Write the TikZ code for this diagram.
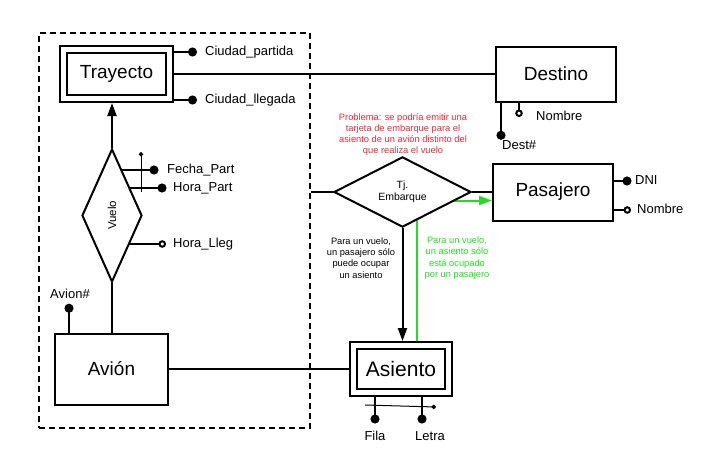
\documentclass[tikz,border=0pt]{standalone}
\usepackage{fontspec}
\setmainfont{Liberation Sans}
\usetikzlibrary{shapes.geometric, arrows.meta, positioning, backgrounds}
\definecolor{NoteRed}{HTML}{E52A38}
\definecolor{NoteGreen}{HTML}{22DD22}
\newcommand{\attrfont}{\fontsize{13}{15}\selectfont}
\newcommand{\notefont}{\fontsize{9.3}{11.2}\selectfont}
\tikzset{
  entity/.style={draw, line width=2pt, fill=white, inner sep=0pt,
                 minimum width=113pt, minimum height=56pt,
                 font=\fontsize{19}{22}\selectfont},
  weakentity/.style={entity, path picture={
      \draw[line width=2pt]
        ([shift={(7pt,-7pt)}]path picture bounding box.north west) rectangle
        ([shift={(-7pt,7pt)}]path picture bounding box.south east);}},
  relation/.style={draw, diamond, line width=2pt, fill=white, inner sep=0pt},
  attrlabel/.style={inner sep=1pt, font=\attrfont,
                    text height=1.6ex, text depth=.3ex},
  link/.style={line width=2pt},
  isa/.style={line width=2pt, -{Triangle[length=13pt, width=9pt]}},
  keyline/.style={line width=2pt, -{Circle[length=9pt]}},
  optline/.style={line width=2pt, -{Circle[open, length=7.5pt]}},
  compline/.style={line width=1pt, -{Circle[length=4.5pt]}},
}

\begin{document}
\begin{tikzpicture}[x=1pt, y=-1pt]
\useasboundingbox (0,0) rectangle (710,463);

% aggregation
\node[draw, dashed, dash pattern=on 6pt off 4pt, line width=1.6pt,
      minimum width=271pt, minimum height=395pt] (agg) at (174.5,230.5) {};

% entities and relations
\node[weakentity] (tray) at (116.5,74) {Trayecto};
\node[entity, minimum width=120pt, minimum height=55pt] (dest) at (556,74) {Destino};
\node[entity, minimum width=120pt, minimum height=57pt] (pas) at (553,192) {Pasajero};
\node[entity, minimum height=71pt] (avion) at (111.5,369) {Avión};
\node[weakentity, minimum width=102pt, minimum height=54pt,
      font=\fontsize{21}{24}\selectfont] (asi) at (401,369) {Asiento};
\node[relation, minimum width=60pt, minimum height=133pt,
      font=\fontsize{11.5}{13}\selectfont] (vuelo) at (112,215.5) {\rotatebox{90}{Vuelo}};
\node[relation, minimum width=137pt, minimum height=56pt, align=center,
      font=\fontsize{10.5}{12}\selectfont] (tj) at (402.5,192) {Tj.\\Embarque};

% connectors
\draw[link] (tray.east) -- (dest.west);
\draw[link] (avion.east) -- (asi.west);
\draw[link] (agg.east |- tj.west) -- (tj.west);
\draw[link] (tj.east) -- (pas.west);
\draw[isa] (vuelo.north) -- (vuelo.north |- tray.south);
\draw[link] (vuelo.south) -- (vuelo.south |- avion.north);
\draw[isa] (tj.south) -- (tj.south |- asi.north);

% green dependency
\coordinate (pasgreen) at ([yshift=-8.5pt]pas.west);
\begin{scope}[on background layer]
  \draw[isa, draw=NoteGreen] ([xshift=16pt]asi.north) |- (pasgreen);
\end{scope}

% attributes of Trayecto
\node[attrlabel, anchor=west] (cpart) at (204,52) {Ciudad\_partida};
\node[attrlabel, anchor=west] (cllega) at (204,100) {Ciudad\_llegada};
\coordinate (cpartdot) at ([xshift=-7pt]cpart.west);
\coordinate (cllegadot) at ([xshift=-7pt]cllega.west);
\draw[keyline] (cpartdot -| tray.east) -- (cpartdot);
\draw[keyline] (cllegadot -| tray.east) -- (cllegadot);

% attributes of Destino
\node[attrlabel, anchor=west] (destkey) at (501,146) {Dest\#};
\node[attrlabel, anchor=west] (destnom) at (535,117) {Nombre};
\coordinate (destkeydot) at (destkey.north west);
\coordinate (destnomdot) at ([xshift=-16pt]destnom.west);
\draw[keyline] (destkeydot |- dest.south) -- (destkeydot);
\draw[optline] (destnomdot |- dest.south) -- (destnomdot);

% attributes of Pasajero
\node[attrlabel, anchor=west] (dni) at (634,181) {DNI};
\node[attrlabel, anchor=west] (pasnom) at (636,210) {Nombre};
\coordinate (dnidot) at ([xshift=-2.5pt]dni.west);
\coordinate (pasnomdot) at ([xshift=-5pt]pasnom.west);
\draw[keyline] (dnidot -| pas.east) -- (dnidot);
\draw[optline] (pasnomdot -| pas.east) -- (pasnomdot);

% attributes of Vuelo
\node[attrlabel, anchor=west] (fpart) at (166,170) {Fecha\_Part};
\node[attrlabel, anchor=west] (hpart) at (172,188) {Hora\_Part};
\node[attrlabel, anchor=west] (hlleg) at (172,244) {Hora\_Lleg};
\coordinate (fpartdot) at ([xshift=-7.5pt]fpart.west);
\coordinate (hpartdot) at ([xshift=-5.5pt]hpart.west);
\coordinate (hllegdot) at ([xshift=-6pt]hlleg.west);
\begin{scope}[on background layer]
  \draw[keyline] (fpartdot -| vuelo.center) -- (fpartdot);
  \draw[keyline] (hpartdot -| vuelo.center) -- (hpartdot);
  \draw[optline] (hllegdot -| vuelo.center) -- (hllegdot);
\end{scope}
\coordinate (vkeylow) at (141,192);
\coordinate (vkeytop) at (141,152);
\draw[compline] (vkeylow) -- (vkeytop);

% attributes of Avion
\node[attrlabel] (avkey) at (70,295) {Avion\#};
\coordinate (avkeydot) at ([xshift=-1pt,yshift=-2.5pt]avkey.south);
\draw[keyline] (avkeydot |- avion.north) -- (avkeydot);

% attributes of Asiento
\node[attrlabel, anchor=north] (fila) at (375,431) {Fila};
\node[attrlabel, anchor=north] (letra) at (430,431) {Letra};
\coordinate (filadot) at ([yshift=7.5pt]fila.north);
\coordinate (letradot) at ([xshift=-8pt,yshift=7.5pt]letra.north);
\draw[keyline] (filadot |- asi.south) -- (filadot);
\draw[keyline] (letradot |- asi.south) -- (letradot);
\coordinate (akeyleft) at (365,405);
\coordinate (akeyright) at (436,407);
\draw[compline] (akeyleft) -- (akeyright);

% notes
\node[align=center, text=NoteRed, font=\notefont] (problema) at (403,134.5)
  {Problema: se podría emitir una\\tarjeta de embarque para el\\
   asiento de un avión distinto del\\que realiza el vuelo};
\node[align=center, font=\notefont] (notapas) at (361,258)
  {Para un vuelo,\\un pasajero sólo\\puede ocupar\\un asiento};
\node[align=center, text=NoteGreen, font=\notefont] (notaasi) at (457,258)
  {Para un vuelo,\\un asiento sólo\\está ocupado\\por un pasajero};
\end{tikzpicture}
\end{document}
